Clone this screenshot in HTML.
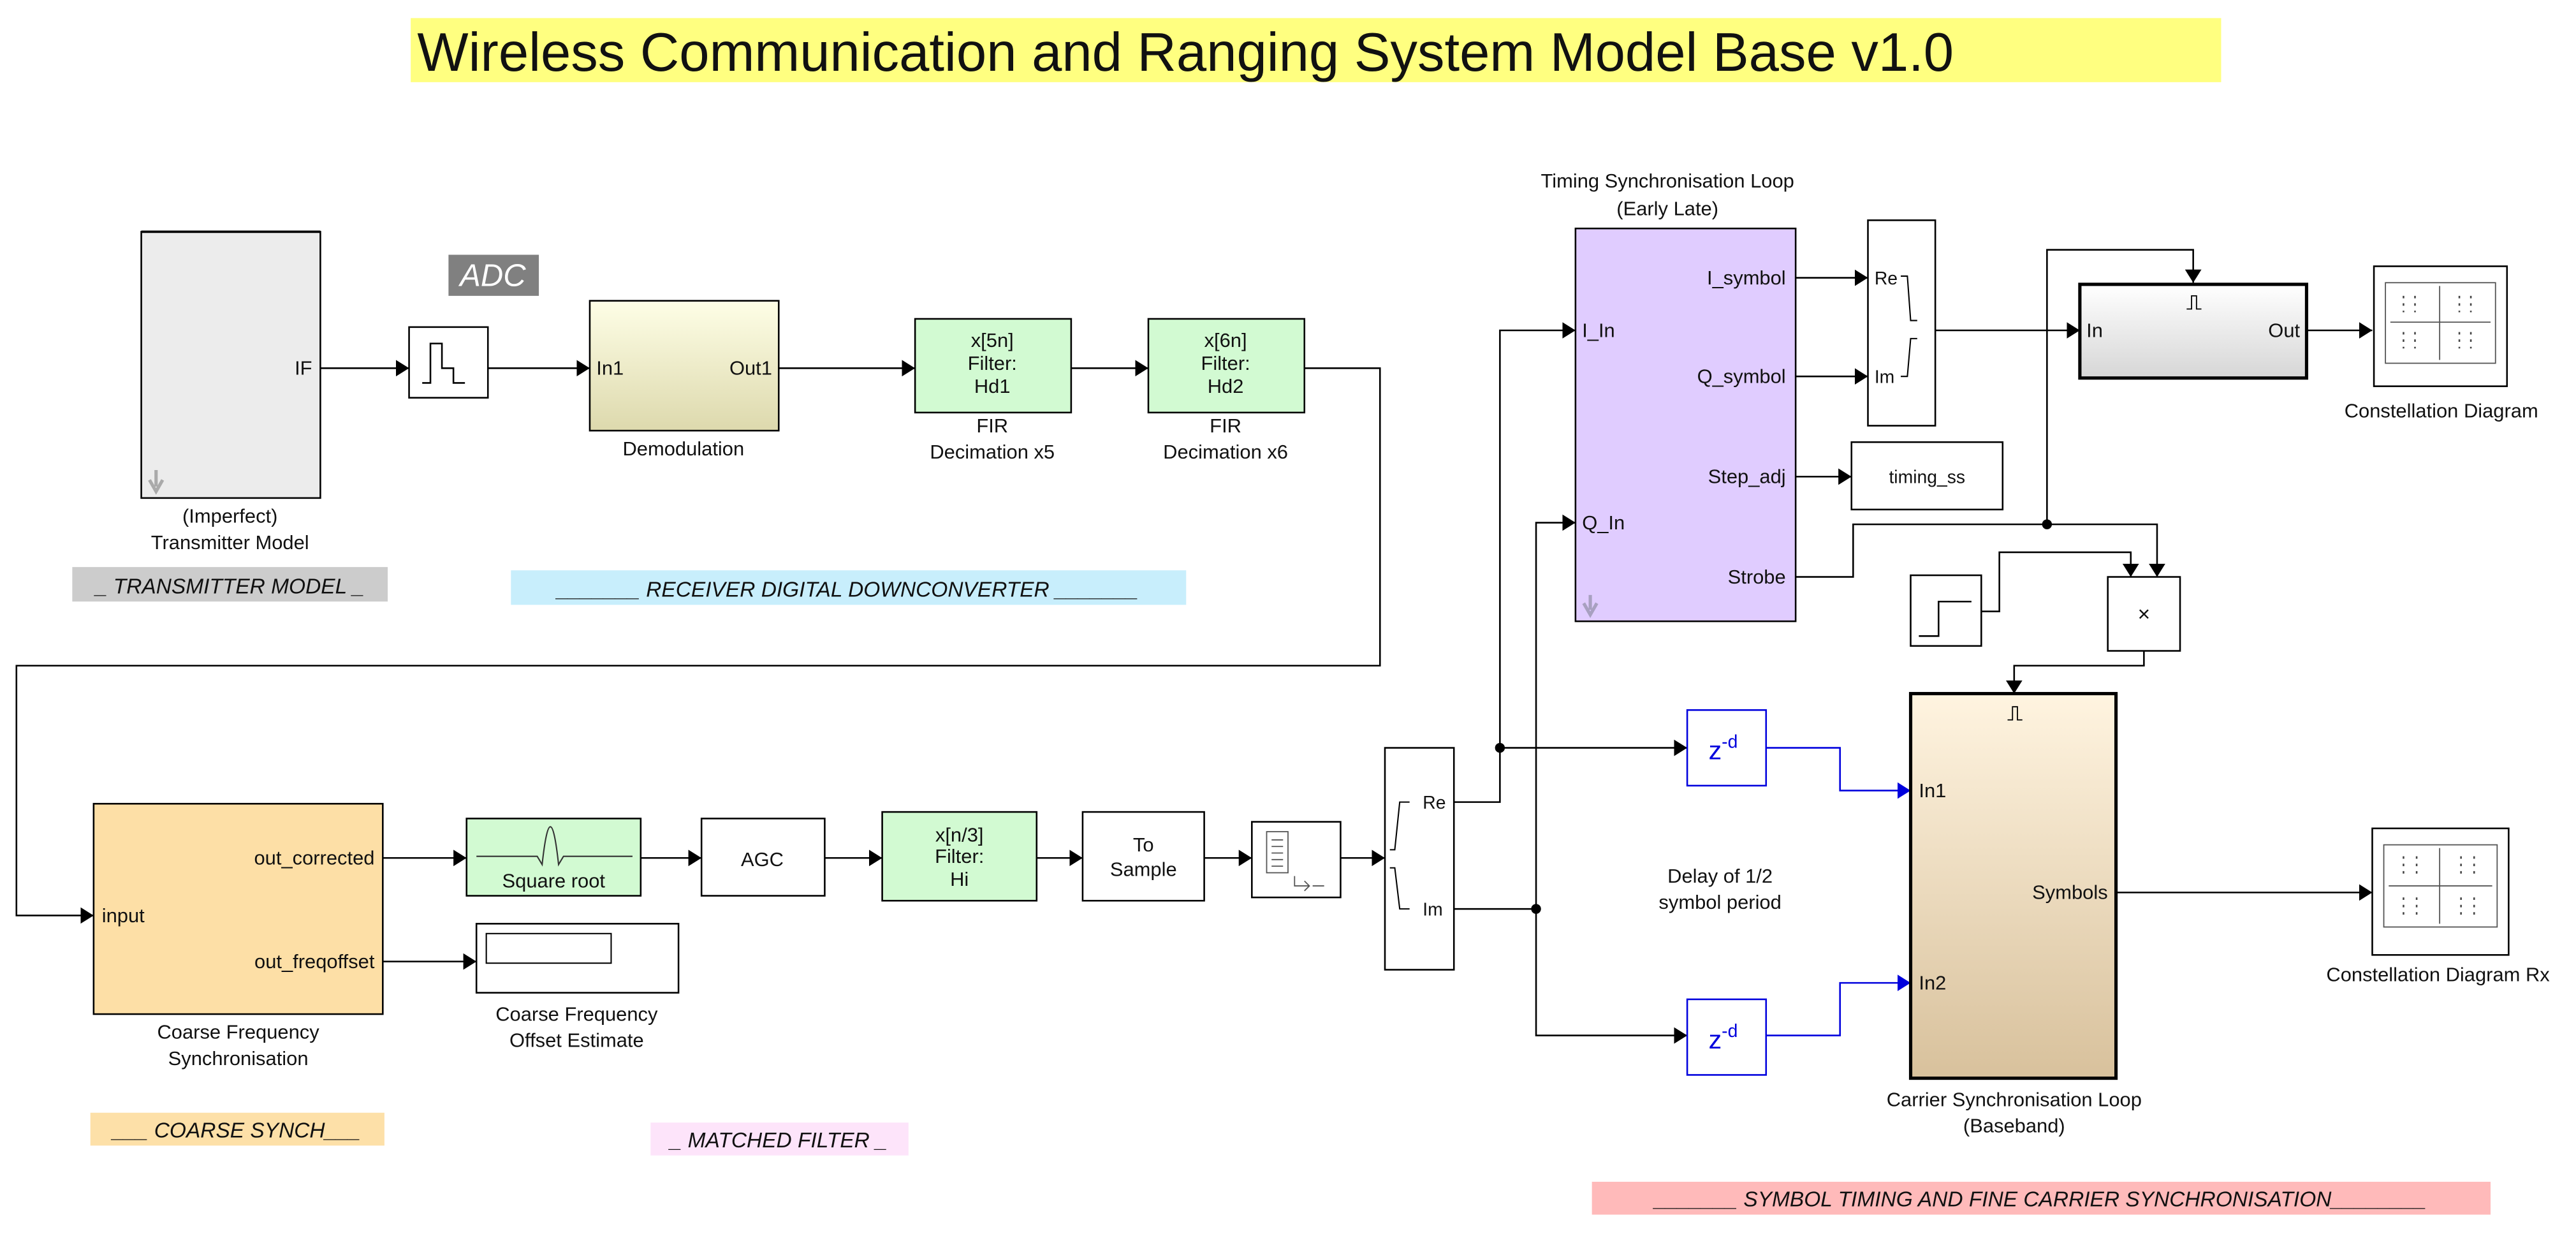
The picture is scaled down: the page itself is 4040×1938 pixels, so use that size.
<!DOCTYPE html>
<html><head><meta charset="utf-8"><style>
html,body{margin:0;padding:0;background:#fff;overflow:hidden;}
svg{display:block;}
text{font-family:"Liberation Sans",Arial,sans-serif;fill:#111;}
</style></head><body>
<svg width="4040" height="1938" viewBox="0 0 1568 752" preserveAspectRatio="none" xmlns="http://www.w3.org/2000/svg">
<defs>
<linearGradient id="gy" x1="0" y1="0" x2="0" y2="1"><stop offset="0" stop-color="#fefee6"/><stop offset="1" stop-color="#ddd9ad"/></linearGradient>
<linearGradient id="gc" x1="0" y1="0" x2="0" y2="1"><stop offset="0" stop-color="#fff4e0"/><stop offset="1" stop-color="#d8c19c"/></linearGradient>
<linearGradient id="gg" x1="0" y1="0" x2="0" y2="1"><stop offset="0" stop-color="#ffffff"/><stop offset="1" stop-color="#d6d6d6"/></linearGradient>
<marker id="a" markerWidth="8" markerHeight="10" refX="8" refY="5" orient="auto" markerUnits="userSpaceOnUse"><path d="M0,0 L8,5 L0,10 z" fill="#000"/></marker>
<marker id="ab" markerWidth="8" markerHeight="10" refX="8" refY="5" orient="auto" markerUnits="userSpaceOnUse"><path d="M0,0 L8,5 L0,10 z" fill="#0000dd"/></marker>
</defs>
<rect x="250" y="11" width="1102" height="39" fill="#ffff80"/>
<text x="254" y="43" font-size="33">Wireless Communication and Ranging System Model Base  v1.0</text>

<g stroke="#000" stroke-width="1" fill="none">
<path d="M195,224 H249" marker-end="url(#a)"/>
<path d="M297,224 H359" marker-end="url(#a)"/>
<path d="M474,224 H557" marker-end="url(#a)"/>
<path d="M652,224 H699" marker-end="url(#a)"/>
<path d="M794,224 H840 V405 H10 V557 H57" marker-end="url(#a)"/>
<path d="M233,522 H284" marker-end="url(#a)"/>
<path d="M390,522 H427" marker-end="url(#a)"/>
<path d="M502,522 H537" marker-end="url(#a)"/>
<path d="M631,522 H659" marker-end="url(#a)"/>
<path d="M733,522 H762" marker-end="url(#a)"/>
<path d="M816,522 H843" marker-end="url(#a)"/>
<path d="M233,585 H290" marker-end="url(#a)"/>
<path d="M885,488 H913 V201 H959" marker-end="url(#a)"/>
<path d="M913,455 H1027" marker-end="url(#a)"/>
<path d="M885,553 H935 V318 H959" marker-end="url(#a)"/>
<path d="M935,553 V630 H1027" marker-end="url(#a)"/>
<path d="M1093,169 H1137" marker-end="url(#a)"/>
<path d="M1093,229 H1137" marker-end="url(#a)"/>
<path d="M1093,290 H1127" marker-end="url(#a)"/>
<path d="M1178,201 H1266" marker-end="url(#a)"/>
<path d="M1404,201 H1444" marker-end="url(#a)"/>
<path d="M1093,351 H1128 V319 H1313 V351" marker-end="url(#a)"/>
<path d="M1246,319 V152 H1335 V172" marker-end="url(#a)"/>
<path d="M1206,372 H1217 V336 H1297 V351" marker-end="url(#a)"/>
<path d="M1305,396 V405 H1226 V422" marker-end="url(#a)"/>
<path d="M1288,543 H1444" marker-end="url(#a)"/>
</g>
<g stroke="#0000dd" stroke-width="1" fill="none">
<path d="M1075,455 H1120 V481 H1163" marker-end="url(#ab)"/>
<path d="M1075,630 H1120 V598 H1163" marker-end="url(#ab)"/>
</g>
<circle cx="913" cy="455" r="3"/><circle cx="935" cy="553" r="3"/><circle cx="1246" cy="319" r="3"/>

<rect x="86" y="141" width="109" height="162" fill="#ececec" stroke="#000"/>
<line x1="86" y1="141" x2="195" y2="141" stroke="#000" stroke-width="1.5"/>
<text x="190" y="228" font-size="12" text-anchor="end">IF</text>
<path d="M95,286 V296 M91,292 L95,299 L99,292" stroke="#aaa" stroke-width="2" fill="none"/>
<text x="140" y="318" font-size="12" text-anchor="middle">(Imperfect)</text>
<text x="140" y="334" font-size="12" text-anchor="middle">Transmitter Model</text>
<rect x="44" y="345" width="192" height="21" fill="#cccccc"/>
<text x="140" y="361" font-size="13" font-style="italic" text-anchor="middle">_ TRANSMITTER MODEL _</text>
<rect x="273" y="155" width="55" height="25" fill="#808080"/>
<text x="300" y="174" font-size="19" font-style="italic" text-anchor="middle" style="fill:#fff">ADC</text>

<rect x="249" y="199" width="48" height="43" fill="#fff" stroke="#000"/>
<path d="M257,233 H262 V209 H269 V224 H276 V233 H283" stroke="#000" fill="none"/>
<rect x="359" y="183" width="115" height="79" fill="url(#gy)" stroke="#000"/>
<text x="363" y="228" font-size="12">In1</text>
<text x="470" y="228" font-size="12" text-anchor="end">Out1</text>
<text x="416" y="277" font-size="12" text-anchor="middle">Demodulation</text>
<rect x="557" y="194" width="95" height="57" fill="#d2fad2" stroke="#000"/>
<text x="604" y="211" font-size="12" text-anchor="middle">x[5n]</text>
<text x="604" y="225" font-size="12" text-anchor="middle">Filter:</text>
<text x="604" y="239" font-size="12" text-anchor="middle">Hd1</text>
<text x="604" y="263" font-size="12" text-anchor="middle">FIR</text>
<text x="604" y="279" font-size="12" text-anchor="middle">Decimation x5</text>
<rect x="699" y="194" width="95" height="57" fill="#d2fad2" stroke="#000"/>
<text x="746" y="211" font-size="12" text-anchor="middle">x[6n]</text>
<text x="746" y="225" font-size="12" text-anchor="middle">Filter:</text>
<text x="746" y="239" font-size="12" text-anchor="middle">Hd2</text>
<text x="746" y="263" font-size="12" text-anchor="middle">FIR</text>
<text x="746" y="279" font-size="12" text-anchor="middle">Decimation x6</text>
<rect x="311" y="347" width="411" height="21" fill="#c8eefc"/>
<text x="516" y="363" font-size="13" font-style="italic" text-anchor="middle">_______ RECEIVER DIGITAL DOWNCONVERTER _______</text>

<rect x="57" y="489" width="176" height="128" fill="#fddfa6" stroke="#000"/>
<text x="62" y="561" font-size="12">input</text>
<text x="228" y="526" font-size="12" text-anchor="end">out_corrected</text>
<text x="228" y="589" font-size="12" text-anchor="end">out_freqoffset</text>
<text x="145" y="632" font-size="12" text-anchor="middle">Coarse Frequency</text>
<text x="145" y="648" font-size="12" text-anchor="middle">Synchronisation</text>
<rect x="55" y="677" width="179" height="20" fill="#fde0a8"/>
<text x="144" y="692" font-size="13" font-style="italic" text-anchor="middle">___ COARSE SYNCH___</text>

<rect x="284" y="498" width="106" height="47" fill="#d2fad2" stroke="#000"/>
<path d="M290,521 H327 L330,526 Q335,480 340,526 L343,521 H385" stroke="#333" fill="none" stroke-width="0.8"/>
<text x="337" y="540" font-size="12" text-anchor="middle">Square root</text>
<rect x="427" y="498" width="75" height="47" fill="#fff" stroke="#000"/>
<text x="464" y="527" font-size="12" text-anchor="middle">AGC</text>
<rect x="537" y="494" width="94" height="54" fill="#d2fad2" stroke="#000"/>
<text x="584" y="512" font-size="12" text-anchor="middle">x[n/3]</text>
<text x="584" y="525" font-size="12" text-anchor="middle">Filter:</text>
<text x="584" y="539" font-size="12" text-anchor="middle">Hi</text>
<rect x="659" y="494" width="74" height="54" fill="#fff" stroke="#000"/>
<text x="696" y="518" font-size="12" text-anchor="middle">To</text>
<text x="696" y="533" font-size="12" text-anchor="middle">Sample</text>
<rect x="762" y="500" width="54" height="46" fill="#fff" stroke="#000"/>
<rect x="771" y="506" width="13" height="25" fill="#fff" stroke="#555" stroke-width="0.7"/>
<path d="M774,511 H781 M774,515 H781 M774,519 H781 M774,523 H781 M774,527 H781" stroke="#555" stroke-width="0.7"/>
<path d="M788,533 V539 H797 M794,536 L797,539 L794,542 M799,539 H806" stroke="#555" stroke-width="0.7" fill="none"/>
<rect x="290" y="562" width="123" height="42" fill="#fff" stroke="#000"/>
<rect x="296" y="568" width="76" height="18" fill="#fff" stroke="#000" stroke-width="0.8"/>
<text x="351" y="621" font-size="12" text-anchor="middle">Coarse Frequency</text>
<text x="351" y="637" font-size="12" text-anchor="middle">Offset Estimate</text>
<rect x="396" y="683" width="157" height="20" fill="#fde4fa"/>
<text x="474" y="698" font-size="13" font-style="italic" text-anchor="middle">_ MATCHED FILTER _</text>

<rect x="843" y="455" width="42" height="135" fill="#fff" stroke="#000"/>
<path d="M846,517 H849 L852,488 H858 M846,528 H849 L852,553 H858" stroke="#000" fill="none" stroke-width="0.8"/>
<text x="866" y="492" font-size="11">Re</text>
<text x="866" y="557" font-size="11">Im</text>

<text x="1015" y="114" font-size="12" text-anchor="middle">Timing Synchronisation Loop</text>
<text x="1015" y="131" font-size="12" text-anchor="middle">(Early Late)</text>
<rect x="959" y="139" width="134" height="239" fill="#e0ccff" stroke="#000"/>
<text x="963" y="205" font-size="12">I_In</text>
<text x="963" y="322" font-size="12">Q_In</text>
<text x="1087" y="173" font-size="12" text-anchor="end">I_symbol</text>
<text x="1087" y="233" font-size="12" text-anchor="end">Q_symbol</text>
<text x="1087" y="294" font-size="12" text-anchor="end">Step_adj</text>
<text x="1087" y="355" font-size="12" text-anchor="end">Strobe</text>
<path d="M968,362 V371 M964,367 L968,374 L972,367" stroke="#a8a0c0" stroke-width="2" fill="none"/>
<rect x="1137" y="134" width="41" height="125" fill="#fff" stroke="#000"/>
<path d="M1157,168 H1161 L1163,195 H1167 M1157,229 H1161 L1163,206 H1167" stroke="#000" fill="none" stroke-width="0.8"/>
<text x="1141" y="173" font-size="11">Re</text>
<text x="1141" y="233" font-size="11">Im</text>
<rect x="1127" y="269" width="92" height="41" fill="#fff" stroke="#000"/>
<text x="1173" y="294" font-size="11" text-anchor="middle">timing_ss</text>

<rect x="1266" y="173" width="138" height="57" fill="url(#gg)" stroke="#000" stroke-width="2"/>
<path d="M1331,188 H1334 V180 H1337 V188 H1340" stroke="#000" fill="none" stroke-width="0.7"/>
<text x="1270" y="205" font-size="12">In</text>
<text x="1400" y="205" font-size="12" text-anchor="end">Out</text>
<rect x="1445" y="162" width="81" height="73" fill="#fff" stroke="#000"/>
<rect x="1452" y="172" width="67" height="49" fill="#fff" stroke="#555" stroke-width="0.7"/>
<path d="M1455,196 H1516 M1485,174 V219" stroke="#555" stroke-width="0.7"/>
<g stroke="#444" stroke-width="1" stroke-dasharray="1.5,3">
<path d="M1463,180 V190 M1470,180 V190 M1497,180 V190 M1504,180 V190 M1463,202 V212 M1470,202 V212 M1497,202 V212 M1504,202 V212"/>
</g>
<text x="1486" y="254" font-size="12" text-anchor="middle">Constellation Diagram</text>

<rect x="1163" y="350" width="43" height="43" fill="#fff" stroke="#000"/>
<path d="M1168,387 H1180 V366 H1200" stroke="#000" fill="none"/>
<rect x="1283" y="351" width="44" height="45" fill="#fff" stroke="#000"/>
<text x="1305" y="378" font-size="13" text-anchor="middle">×</text>

<rect x="1027" y="432" width="48" height="46" fill="#fff" stroke="#0000dd"/>
<text x="1040" y="462" font-size="16" style="fill:#0000dd">z<tspan font-size="11" dy="-7">-d</tspan></text>
<rect x="1027" y="608" width="48" height="46" fill="#fff" stroke="#0000dd"/>
<text x="1040" y="638" font-size="16" style="fill:#0000dd">z<tspan font-size="11" dy="-7">-d</tspan></text>
<text x="1047" y="537" font-size="12" text-anchor="middle">Delay of 1/2</text>
<text x="1047" y="553" font-size="12" text-anchor="middle">symbol period</text>

<rect x="1163" y="422" width="125" height="234" fill="url(#gc)" stroke="#000" stroke-width="2"/>
<path d="M1222,438 H1225 V430 H1228 V438 H1231" stroke="#000" fill="none" stroke-width="0.7"/>
<text x="1168" y="485" font-size="12">In1</text>
<text x="1168" y="602" font-size="12">In2</text>
<text x="1283" y="547" font-size="12" text-anchor="end">Symbols</text>
<text x="1226" y="673" font-size="12" text-anchor="middle">Carrier Synchronisation Loop</text>
<text x="1226" y="689" font-size="12" text-anchor="middle">(Baseband)</text>

<rect x="1444" y="504" width="83" height="77" fill="#fff" stroke="#000"/>
<rect x="1451" y="514" width="69" height="50" fill="#fff" stroke="#555" stroke-width="0.7"/>
<path d="M1454,539 H1517 M1485,516 V562" stroke="#555" stroke-width="0.7"/>
<g stroke="#444" stroke-width="1" stroke-dasharray="1.5,3">
<path d="M1463,521 V532 M1471,521 V532 M1498,521 V532 M1506,521 V532 M1463,546 V557 M1471,546 V557 M1498,546 V557 M1506,546 V557"/>
</g>
<text x="1484" y="597" font-size="12" text-anchor="middle">Constellation Diagram Rx</text>

<rect x="969" y="719" width="547" height="20" fill="#ffbaba"/>
<text x="1242" y="734" font-size="13" font-style="italic" text-anchor="middle">_______ SYMBOL TIMING AND FINE CARRIER SYNCHRONISATION________</text>
</svg>
</body></html>
